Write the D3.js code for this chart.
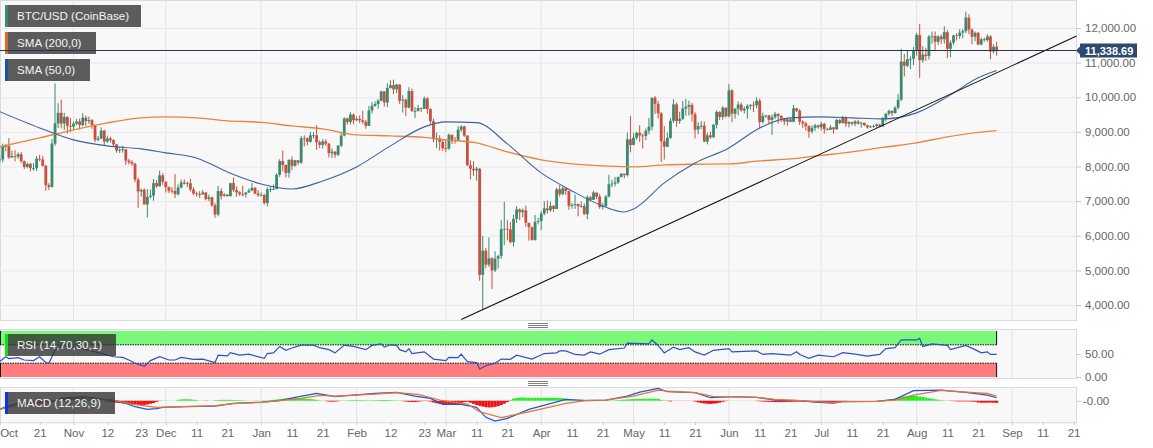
<!DOCTYPE html>
<html>
<head>
  <meta charset="utf-8">
  <title>BTC/USD (CoinBase)</title>
  <style>
    html, body { margin: 0; padding: 0; background: #fff; overflow: hidden; }
    svg { display: block; font-family: "Liberation Sans", Arial, sans-serif; }
    .tick text { fill: #666; font-size: 11.5px; }
    .tick line { stroke: #c8c8d2; }
  </style>
</head>
<body>
  <script src="https://cdn.jsdelivr.net/npm/d3@7/dist/d3.min.js"></script>
  <script>
    // daily candles, first one is 2019-10-08, one row per month
    var firstDay = "2019-10-08";

    var opens = [
      8170,8205,8590,8590,8260,8300,8285,8355,8155,7990,8075,7950,7950,8225,8205,8020,7465,7410,8660,9245,9550,9240,9430,9175,
      9150,9240,9300,9200,9410,9310,9340,9200,8770,8810,9035,8720,8810,8760,8635,8460,8485,8500,8170,8125,8080,7620,7280,7325,6905,7125,7160,7520,7430,7745,
      7560,7400,7300,7295,7200,7395,7540,7505,7515,7335,7220,7200,7190,7250,7065,7110,6880,6615,7290,7150,7190,7145,7520,7320,7255,7200,7195,7250,7305,7385,7220,
      7170,7175,6945,7340,7350,7350,7760,8155,8045,7815,8195,8020,8180,8110,8815,8810,8715,8900,8900,8700,8625,8725,8660,8385,8430,8340,8600,8895,9390,9285,9500,
      9335,9375,9335,9290,9175,9615,9755,9805,9900,10170,9850,10270,10350,10230,10365,9900,9930,9700,10180,9600,9605,9690,9665,9965,9660,9310,8785,8810,8710,
      8530,8520,8915,8760,8755,9065,9155,8895,8035,7935,7890,7935,4870,5570,5165,5350,5000,5340,5410,6190,6200,6185,5815,6490,6760,6680,6735,6375,6250,5880,6400,
      6420,6640,6790,6735,6860,6775,7340,7200,7370,7295,6865,6890,6915,6850,6855,6625,7110,7035,7250,7130,6835,6855,7135,7485,7505,7540,7700,7795,7750,8785,
      8620,8830,8975,8895,8885,9030,9150,9985,9810,9535,8730,8570,8825,9320,9795,9315,9380,9675,9725,9780,9510,9065,9170,9180,8720,8900,8845,9205,9575,9430,9700,
      9450,10200,9525,9665,9790,9620,9670,9750,9780,9770,9900,9285,9465,9475,9345,9425,9520,9460,9385,9300,9360,9290,9680,9610,9290,9245,9165,9010,9115,9190,
      9135,9230,9085,9060,9130,9075,9345,9255,9430,9235,9280,9235,9300,9240,9260,9190,9130,9155,9170,9210,9160,9390,9525,9605,9540,9700,9930,11030,10910,11100,11110,
      11350,11800,11070,11230,11190,11750,11770,11600,11755,11675,11880,11400,11575,11785,11770,11865,11910,12300,11950,11750,11860,11525,11675,11650,11755,11325,11460
    ];
    var closes = [
      8205,8590,8590,8260,8300,8285,8355,8155,7990,8075,7950,7950,8225,8205,8020,7465,7410,8660,9245,9550,9240,9430,9175,9150,
      9240,9300,9200,9410,9310,9340,9200,8770,8810,9035,8720,8810,8760,8635,8460,8485,8500,8170,8125,8080,7620,7280,7325,6905,7125,7160,7520,7430,7745,7560,
      7400,7300,7295,7200,7395,7540,7505,7515,7335,7220,7200,7190,7250,7065,7110,6880,6615,7290,7150,7190,7145,7520,7320,7255,7200,7195,7250,7305,7385,7220,7170,
      7175,6945,7340,7350,7350,7760,8155,8045,7815,8195,8020,8180,8110,8815,8810,8715,8900,8900,8700,8625,8725,8660,8385,8430,8340,8600,8895,9390,9285,9500,9335,
      9375,9335,9290,9175,9615,9755,9805,9900,10170,9850,10270,10350,10230,10365,9900,9930,9700,10180,9600,9605,9690,9665,9965,9660,9310,8785,8810,8710,8530,
      8520,8915,8760,8755,9065,9155,8895,8035,7935,7890,7935,4870,5570,5165,5350,5000,5340,5410,6190,6200,6185,5815,6490,6760,6680,6735,6375,6250,5880,6400,6420,
      6640,6790,6735,6860,6775,7340,7200,7370,7295,6865,6890,6915,6850,6855,6625,7110,7035,7250,7130,6835,6855,7135,7485,7505,7540,7700,7795,7750,8785,8620,
      8830,8975,8895,8885,9030,9150,9985,9810,9535,8730,8570,8825,9320,9795,9315,9380,9675,9725,9780,9510,9065,9170,9180,8720,8900,8845,9205,9575,9430,9700,9450,
      10200,9525,9665,9790,9620,9670,9750,9780,9770,9900,9285,9465,9475,9345,9425,9520,9460,9385,9300,9360,9290,9680,9610,9290,9245,9165,9010,9115,9190,9135,
      9230,9085,9060,9130,9075,9345,9255,9430,9235,9280,9235,9300,9240,9260,9190,9130,9155,9170,9210,9160,9390,9525,9605,9540,9700,9930,11030,10910,11100,11110,11350,
      11800,11070,11230,11190,11750,11770,11600,11755,11675,11880,11400,11575,11785,11770,11865,11910,12300,11950,11750,11860,11525,11675,11650,11755,11325,11460,11338.69
    ];
    var highs = [
      8330,8660,8640,8820,8460,8470,8410,8420,8170,8110,8110,8100,8300,8340,8300,8050,7520,8790,10400,9830,9930,9550,9450,9400,
      9300,9370,9380,9540,9470,9440,9370,9210,8880,9130,9060,8890,8860,8790,8650,8530,8600,8500,8220,8190,8110,7680,7360,7370,7350,7340,7640,7610,7880,7810,
      7570,7430,7410,7780,7480,7620,7630,7570,7650,7400,7270,7290,7320,7260,7190,7130,6940,7440,7370,7230,7190,7520,7680,7430,7290,7440,7260,7370,7520,7400,7320,
      7250,7210,7400,7410,7480,7800,8210,8460,8050,8200,8290,8190,8190,8880,8900,8850,9000,8990,9190,8760,8790,8790,8680,8520,8440,8620,8990,9420,9410,9570,9530,
      9450,9470,9610,9340,9750,9860,9880,9950,10190,10170,10400,10490,10510,10390,10380,10060,9960,10290,10250,9720,9770,9700,10020,10000,9680,9380,8980,8900,8790,
      8770,8950,8920,8850,9170,9190,9180,8900,8180,8150,7990,7960,6000,5650,5950,5380,5550,5450,6450,6980,6450,6400,6600,6850,6790,6790,6870,6280,6260,6600,6520,
      6710,7000,7020,6990,6890,7380,7460,7420,7380,7300,6950,7190,6930,6990,6930,7170,7150,7300,7230,7210,6950,7170,7760,7620,7700,7700,7800,7780,8980,9460,
      8970,9000,9190,8950,9100,9400,9990,10040,9900,9580,9170,8980,9400,9940,9850,9580,9890,9950,9900,9840,9570,9280,9310,9300,8980,9010,9230,9620,9600,9740,9700,
      10380,10230,9690,9880,9850,9730,9800,9800,9880,10000,9960,9560,9490,9490,9500,9580,9540,9480,9400,9400,9400,9780,9690,9660,9340,9300,9190,9190,9230,9200,
      9290,9260,9120,9200,9140,9380,9370,9470,9450,9310,9300,9340,9350,9290,9270,9210,9190,9210,9240,9230,9430,9540,9640,9620,9740,10100,11400,11250,11340,11180,11450,
      11860,12120,11480,11430,11800,11900,11900,11790,11810,12050,11940,11640,11800,11850,11960,11970,12470,12400,11990,11900,11890,11720,11720,11820,11790,11530,11600
    ];
    var lows = [
      8120,8120,8440,8220,8250,8150,8220,8090,7930,7950,7860,7880,7870,8150,8000,7300,7320,7390,8600,9110,9100,9060,8950,8990,
      9050,9190,9070,9160,9170,9240,9090,8700,8730,8790,8610,8680,8690,8570,8400,8390,8400,8050,8060,8020,7550,6800,7130,6900,6530,7080,7010,7380,7420,7470,
      7250,7230,7230,7090,7160,7370,7480,7400,7280,7170,7130,7090,7210,7020,7000,6830,6520,6560,7050,7130,7130,7130,7260,7130,7150,7130,7100,7240,7290,7200,7130,
      7140,6900,6850,7260,7320,7340,7700,7860,7690,7680,7900,8000,8050,8080,8580,8610,8690,8810,8480,8530,8520,8590,8260,8250,8250,8300,8560,8870,9210,9210,9220,
      9310,9250,9230,9090,9170,9530,9720,9670,9880,9730,9710,10250,10090,10120,9810,9560,9460,9680,9580,9400,9590,9570,9660,9520,9240,8700,8530,8460,8450,
      8410,8480,8650,8660,8750,9000,8850,8010,7630,7730,7590,4700,3856,5060,5100,4460,4950,5050,5330,5730,5870,5780,5690,6370,6450,6530,6260,5860,5860,5860,6330,
      6160,6590,6640,6690,6690,6770,7130,7170,7180,6750,6780,6780,6560,6810,6600,6480,6990,7030,7060,6780,6760,6830,7110,7400,7420,7490,7680,7660,7710,8410,
      8620,8770,8710,8520,8760,8930,9050,9520,9390,8130,8200,8570,8800,9260,9150,9230,9340,9470,9470,9300,8810,8930,9080,8700,8640,8800,8830,9100,9340,9350,9410,
      9420,9280,9380,9480,9590,9530,9380,9650,9570,9680,9100,9240,9400,9230,8910,9370,9240,9280,9200,9180,9280,9280,9570,9200,9110,9040,8830,8950,9030,9090,
      9040,8950,9040,9060,8950,9060,9220,9240,9140,9130,9180,9160,9210,9120,9170,9090,9120,9120,9120,9130,9150,9300,9470,9450,9530,9650,9890,10600,10870,10810,10930,
      11200,10560,11000,11050,11090,11550,11350,11520,11540,11550,11130,11160,11520,11640,11680,11700,11850,11820,11530,11620,11500,11500,11600,11600,11100,11270,11200
    ];

    // moving averages, read about every ten days
    var smaDates = ["2019-10-08","2019-10-21","2019-11-01","2019-11-12","2019-11-23","2019-12-01","2019-12-11","2019-12-21","2020-01-01","2020-01-11","2020-01-21","2020-02-01","2020-02-12","2020-02-23","2020-03-01","2020-03-11","2020-03-21","2020-04-01","2020-04-11","2020-04-21","2020-04-28","2020-05-01","2020-05-11","2020-05-21","2020-06-01","2020-06-11","2020-06-21","2020-07-01","2020-07-11","2020-07-21","2020-08-01","2020-08-11","2020-08-21","2020-08-27"];
    var sma200 = [8566,8826,9058,9260,9404,9433,9404,9318,9274,9173,9086,8913,8884,8841,8769,8682,8422,8191,8075,8017,7997,7988,8046,8066,8075,8162,8219,8321,8422,8552,8682,8855,8985,9037];
    var sma50 = [9586,9115,8769,8595,8508,8393,8248,7844,7497,7352,7584,7988,8595,9144,9289,9268,8653,7815,7295,6861,6688,6774,7526,8104,8537,9115,9404,9433,9404,9375,9549,10011,10560,10771];

    var trendDates = ["2020-03-06","2020-09-22"];
    var trendPrices = [3578,11769];

    // RSI, x is day number counted from firstDay
    var rsiDays = [0,2,3,6,8,11,13,15,16,18,20,27,33,37,40,42,44,47,49,52,55,57,59,63,66,70,71,74,75,78,81,86,87,89,91,93,95,98,102,104,107,109,112,115,119,121,124,125,127,129,130,132,133,134,138,141,145,146,149,150,152,155,156,158,161,163,166,168,173,177,181,182,184,187,190,192,195,198,203,204,211,212,214,216,217,219,221,224,226,229,232,237,238,246,248,251,257,259,260,263,266,271,274,278,282,286,288,291,293,298,299,300,303,308,309,314,317,319,321,322,324];
    var rsiValues = [33.5,44,40,42,37,35.6,44,31.4,30,58,68.6,61.6,51,44,42.6,37,30,23,35.6,44,37,37,42.6,38.4,39,31.4,47.5,46,53,47.5,49.6,40.5,51,52.5,66.5,58,63,69.3,69.3,63.7,59.5,52.5,69.3,66.5,59.5,68.6,72,65,70,68.6,59.5,54.6,61.6,51,54.6,39,35.6,42.6,42,49.6,33.5,31.4,17.4,24.4,30,39,38.4,47.5,39,51,52.5,56.7,56.7,49,47.5,54.6,49.6,59.5,63,73.5,72,80.5,68.6,52.5,56.7,65,59.5,63.7,54.6,47.5,58,61.6,54.6,56.7,49,51,47.5,55,49,40.5,47.5,44,53,49.6,45.4,49,61.6,63.7,81,80.5,84,66.5,72,68.6,59.5,68.6,59.5,52.5,54.6,49,49];
    var rsiBands = [70,30];

    // MACD line and signal line, same day numbers idea
    var macdDays = [0,2,6,12,16,18,20,27,37,41,44,48,51,53,60,70,76,85,91,96,103,109,115,122,129,135,140,144,150,155,158,161,165,172,184,191,197,204,208,214,217,226,231,238,246,252,260,265,271,274,285,291,297,306,314,321,324];
    var macdValues = [-303,-210,-93,-58,-35,0,82,140,0,-93,-210,-303,-280,-233,-210,-187,-93,-47,0,117,257,140,198,257,292,163,82,-128,-128,-233,-583,-712,-618,-303,47,0,23,163,303,432,315,280,105,140,117,23,0,-47,-82,-35,-23,47,350,373,292,198,105];
    var signalDays = [0,4,12,18,27,37,43,51,60,70,76,85,91,98,104,109,115,122,129,136,144,152,156,163,173,184,191,197,206,214,217,226,232,238,246,252,260,265,271,274,285,291,297,306,314,321,324];
    var signalValues = [-303,-210,-93,-12,117,23,-117,-233,-210,-175,-105,-58,0,82,187,163,198,233,280,222,0,-117,-385,-595,-362,-93,12,23,163,373,338,280,140,140,117,47,0,-35,-58,-35,-23,23,198,362,303,257,163];

    // MACD histogram, one value per day
    var histValues = [
      0,0,5,10,10,10,5,5,0,-5,-10,-15,-15,-15,-10,-5,0,5,
      20,50,80,100,115,120,120,115,105,95,85,70,50,30,15,5,-10,-25,-30,
      -50,-70,-80,-95,-105,-120,-130,-140,-150,-150,-145,-130,-105,-80,-40,-10,
      5,5,5,5,5,30,45,50,50,45,35,20,5,-5,-10,-5,5,
      20,25,30,30,30,30,25,20,20,15,10,5,5,-5,-5,5,10,15,20,30,40,
      55,70,80,85,85,85,80,75,70,65,55,45,30,15,5,-15,-30,-35,-30,-20,-5,
      10,15,20,20,20,20,20,15,15,15,20,20,25,25,25,20,15,15,
      -5,-15,-30,-40,-45,-45,-35,-20,-10,-15,-30,-60,-90,-110,-120,-125,-130,-130,-125,-110,-80,-50,
      -40,-70,-110,-150,-180,-205,-225,-235,-230,-215,-190,-150,-105,-50,
      30,70,95,110,110,105,100,100,100,100,100,100,100,100,100,95,90,85,70,50,30,
      15,10,5,5,-5,-5,5,5,5,5,10,10,10,
      15,20,30,35,45,50,55,60,65,65,65,70,75,70,60,30,-5,-10,-25,
      -5,-5,-5,-5,-5,-5,-5,-30,-60,-80,-95,-105,-110,-100,-90,-70,-40,
      -15,-5,5,5,5,5,5,5,5,5,-10,-20,-30,-35,-40,-45,-50,-50,-50,-45,-40,-40,-35,-35,-30,
      -30,-35,-40,-50,-55,-60,-60,-60,-60,-55,-50,-45,-35,-20,-10,-5,-5,-5,-5,-5,-5,-5,-5,-5,-5,
      5,15,25,40,60,85,110,130,150,165,170,170,165,150,130,110,90,70,50,35,20,10,
      -5,-10,-15,-20,-25,-25,-25,-25,-30,-35,-60,-70,-70,-65,-65,-70,-75
    ];

    var priceTicks = [4000,5000,6000,7000,8000,9000,10000,11000,12000];
    var rsiTicks = [0,50];
    var macdTicks = [0];
    var monthGrid = ["2019-11-01","2019-12-01","2020-01-01","2020-02-01","2020-03-01","2020-04-01","2020-05-01","2020-06-01","2020-07-01","2020-08-01","2020-09-01"];
    var tickDates = ["2019-10-08","2019-10-21","2019-11-01","2019-11-12","2019-11-23","2019-12-01","2019-12-11","2019-12-21","2020-01-01","2020-01-11","2020-01-21","2020-02-01","2020-02-12","2020-02-23","2020-03-01","2020-03-11","2020-03-21","2020-04-01","2020-04-11","2020-04-21","2020-05-01","2020-05-11","2020-05-21","2020-06-01","2020-06-11","2020-06-21","2020-07-01","2020-07-11","2020-07-21","2020-08-01","2020-08-11","2020-08-21","2020-09-01","2020-09-11","2020-09-21"];
    var tickLabels = ["Oct","21","Nov","12","23","Dec","11","21","Jan","11","21","Feb","12","23","Mar","11","21","Apr","11","21","May","11","21","Jun","11","21","Jul","11","21","Aug","11","21","Sep","11","21"];

    var plotRight = 1076;
    var parseDay = d3.utcParse("%Y-%m-%d");
    var start = parseDay(firstDay);
    function dayDate(i) { return d3.utcDay.offset(start, i); }

    var width = 1153, height = 448;
    var svg = d3.select("body").append("svg").attr("width", width).attr("height", height);

    var x = d3.scaleUtc().domain([parseDay("2019-11-01"), parseDay("2020-09-01")]).range([73.5, 1012]);
    var y = d3.scaleLinear().domain([4000, 12000]).range([305, 28]);
    var yRsi = d3.scaleLinear().domain([0, 100]).range([377, 331]);
    var yMacd = d3.scaleLinear().domain([-756, 480]).range([422.3, 387]);
    var lastX = x(dayDate(closes.length - 1));

    // panels
    var panels = [[0, 320], [329, 378], [387, 422.3]];
    svg.selectAll("rect.panel").data(panels).enter().append("rect")
      .attr("class", "panel")
      .attr("x", 0.5).attr("y", function(d) { return d[0] + 0.5; })
      .attr("width", plotRight).attr("height", function(d) { return d[1] - d[0]; })
      .attr("fill", "#f8f8f9").attr("stroke", "#d9d9e3");

    // vertical grid in all three panels
    panels.forEach(function(p) {
      svg.append("g").selectAll("line").data(monthGrid).enter().append("line")
        .attr("x1", function(d) { return x(parseDay(d)); })
        .attr("x2", function(d) { return x(parseDay(d)); })
        .attr("y1", p[0]).attr("y2", p[1])
        .attr("stroke", "#e3e3e8");
    });
    svg.append("g").selectAll("line").data(priceTicks).enter().append("line")
      .attr("x1", 0).attr("x2", plotRight)
      .attr("y1", function(d) { return y(d) + 0.5; }).attr("y2", function(d) { return y(d) + 0.5; })
      .attr("stroke", "#e8e8ec");

    // candles
    var upColor = "#3a8a6e", downColor = "#c9503c";
    var candles = svg.append("g").selectAll("g").data(closes).enter().append("g")
      .attr("stroke", function(d, i) { return d >= opens[i] ? upColor : downColor; })
      .attr("fill", function(d, i) { return d >= opens[i] ? upColor : downColor; });
    candles.append("line")
      .attr("x1", function(d, i) { return x(dayDate(i)); })
      .attr("x2", function(d, i) { return x(dayDate(i)); })
      .attr("y1", function(d, i) { return y(highs[i]); })
      .attr("y2", function(d, i) { return y(lows[i]); })
      .attr("stroke-width", 1);
    candles.append("rect")
      .attr("x", function(d, i) { return x(dayDate(i)) - 1.4; })
      .attr("width", 2.8)
      .attr("y", function(d, i) { return y(Math.max(d, opens[i])); })
      .attr("height", function(d, i) { return Math.max(0.8, Math.abs(y(d) - y(opens[i]))); })
      .attr("stroke", "none");

    // SMA lines and the trend line
    function priceLine(dates, values, color, w, curve) {
      var line = d3.line()
        .x(function(d, i) { return x(parseDay(dates[i])); })
        .y(function(d) { return y(d); })
        .curve(curve);
      svg.append("path").datum(values).attr("d", line)
        .attr("fill", "none").attr("stroke", color).attr("stroke-width", w);
    }
    priceLine(smaDates, sma200, "#e8853f", 1.4, d3.curveMonotoneX);
    priceLine(smaDates, sma50, "#3d62a0", 1.1, d3.curveMonotoneX);
    priceLine(trendDates, trendPrices, "#111", 1.1, d3.curveLinear);

    // RSI panel
    svg.append("rect").attr("x", 0).attr("width", lastX)
      .attr("y", yRsi(100)).attr("height", yRsi(rsiBands[0]) - yRsi(100)).attr("fill", "#7af87a");
    svg.append("rect").attr("x", 0).attr("width", lastX)
      .attr("y", yRsi(rsiBands[1])).attr("height", yRsi(0) - yRsi(rsiBands[1])).attr("fill", "#ff7d7d");
    svg.append("g").selectAll("line").data(rsiBands).enter().append("line")
      .attr("x1", 0).attr("x2", lastX)
      .attr("y1", function(d) { return yRsi(d); }).attr("y2", function(d) { return yRsi(d); })
      .attr("stroke", "#111").attr("stroke-dasharray", "1.5,1");
    [[100, 70], [30, 0]].forEach(function(b) {
      svg.append("line").attr("x1", lastX).attr("x2", lastX)
        .attr("y1", yRsi(b[0])).attr("y2", yRsi(b[1])).attr("stroke", "#111");
      svg.append("line").attr("x1", 0.5).attr("x2", 0.5)
        .attr("y1", yRsi(b[0])).attr("y2", yRsi(b[1])).attr("stroke", "#111");
    });
    var rsiLine = d3.line()
      .x(function(d, i) { return x(dayDate(rsiDays[i])); })
      .y(function(d) { return yRsi(d); });
    svg.append("path").datum(rsiValues).attr("d", rsiLine)
      .attr("fill", "none").attr("stroke", "#2c50c8").attr("stroke-width", 1.2);

    // MACD panel
    svg.append("g").selectAll("rect").data(histValues).enter().append("rect")
      .attr("x", function(d, i) { return x(dayDate(i)) - 1.5; })
      .attr("width", 3.1)
      .attr("y", function(d) { return Math.min(yMacd(d), yMacd(0)); })
      .attr("height", function(d) { return Math.abs(yMacd(d) - yMacd(0)); })
      .attr("fill", function(d) { return d >= 0 ? "#22ee22" : "#ee1111"; });
    var macdLine = d3.line()
      .x(function(d, i) { return x(dayDate(macdDays[i])); })
      .y(function(d) { return yMacd(d); });
    var signalLine = d3.line()
      .x(function(d, i) { return x(dayDate(signalDays[i])); })
      .y(function(d) { return yMacd(d); });
    svg.append("path").datum(macdValues).attr("d", macdLine)
      .attr("fill", "none").attr("stroke", "#2255dd").attr("stroke-width", 1.2);
    svg.append("path").datum(signalValues).attr("d", signalLine)
      .attr("fill", "none").attr("stroke", "#e5762f").attr("stroke-width", 1.2);

    // axes
    var axisPrice = d3.axisRight(y).tickValues(priceTicks).tickSize(5).tickPadding(4).tickFormat(d3.format(",.2f"));
    svg.append("g").attr("transform", "translate(" + plotRight + ",0)").call(axisPrice)
      .call(function(g) { g.select(".domain").remove(); });
    var axisRsi = d3.axisRight(yRsi).tickValues(rsiTicks).tickSize(5).tickPadding(4).tickFormat(d3.format(".2f"));
    svg.append("g").attr("transform", "translate(" + plotRight + ",0)").call(axisRsi)
      .call(function(g) { g.select(".domain").remove(); });
    var axisMacd = d3.axisRight(yMacd).tickValues(macdTicks).tickSize(5).tickPadding(2).tickFormat(function() { return "-0.00"; });
    svg.append("g").attr("transform", "translate(" + plotRight + ",0)").call(axisMacd)
      .call(function(g) { g.select(".domain").remove(); });
    var axisTime = d3.axisBottom(x).tickValues(tickDates.map(parseDay)).tickSize(3).tickPadding(4)
      .tickFormat(function(d, i) { return tickLabels[i]; });
    var gTime = svg.append("g").attr("transform", "translate(0,422)").call(axisTime);
    gTime.select(".domain").remove();
    gTime.selectAll("text").attr("text-anchor", function(d, i) { return i == 0 ? "start" : "middle"; });

    // legend boxes
    function legend(label, top, left, w, color, fill, op) {
      svg.append("rect").attr("x", left + 2).attr("y", top).attr("width", w).attr("height", 22)
        .attr("fill", fill).attr("fill-opacity", op);
      svg.append("rect").attr("x", left).attr("y", top).attr("width", 3).attr("height", 22).attr("fill", color);
      svg.append("text").attr("x", left + 12).attr("y", top + 15)
        .attr("fill", "#f4f4f4").style("font-size", "11.6px").text(label);
    }
    legend("BTC/USD (CoinBase)", 5, 5, 134, "#3a8a6e", "#5c5c5c", 1);
    legend("SMA (200,0)", 32, 5, 89, "#d8691f", "#5c5c5c", 1);
    legend("SMA (50,0)", 59, 5, 83, "#1d52a0", "#5c5c5c", 1);
    legend("RSI (14,70,30,1)", 334, 5, 109, "#10e010", "#333", 0.8);
    legend("MACD (12,26,9)", 392, 5, 108, "#1030ee", "#333", 0.8);

    // current price line and tag
    var lastPrice = closes[closes.length - 1];
    var tagY = Math.floor(y(lastPrice)) + 0.5;
    svg.append("line").attr("x1", 0).attr("x2", plotRight)
      .attr("y1", tagY).attr("y2", tagY)
      .attr("stroke", "#24364f").attr("stroke-width", 1);
    svg.append("path")
      .attr("d", "M1076," + tagY + "L1080," + (tagY - 4) + "V" + (tagY - 7) + "H1137V" + (tagY + 7) + "H1080V" + (tagY + 4) + "Z")
      .attr("fill", "#2d4a6e");
    svg.append("text").attr("x", 1085).attr("y", tagY + 4.5)
      .attr("fill", "#fff").style("font-size", "11px").style("font-weight", "bold")
      .text(d3.format(",.2f")(lastPrice));

    // pane resize handles
    var handleY = [323, 381];
    handleY.forEach(function(h) {
      svg.append("g").selectAll("line").data([0, 2, 4]).enter().append("line")
        .attr("x1", 528).attr("x2", 548)
        .attr("y1", function(d) { return h + d + 0.5; }).attr("y2", function(d) { return h + d + 0.5; })
        .attr("stroke", "#808080");
    });
  </script>
</body>
</html>
